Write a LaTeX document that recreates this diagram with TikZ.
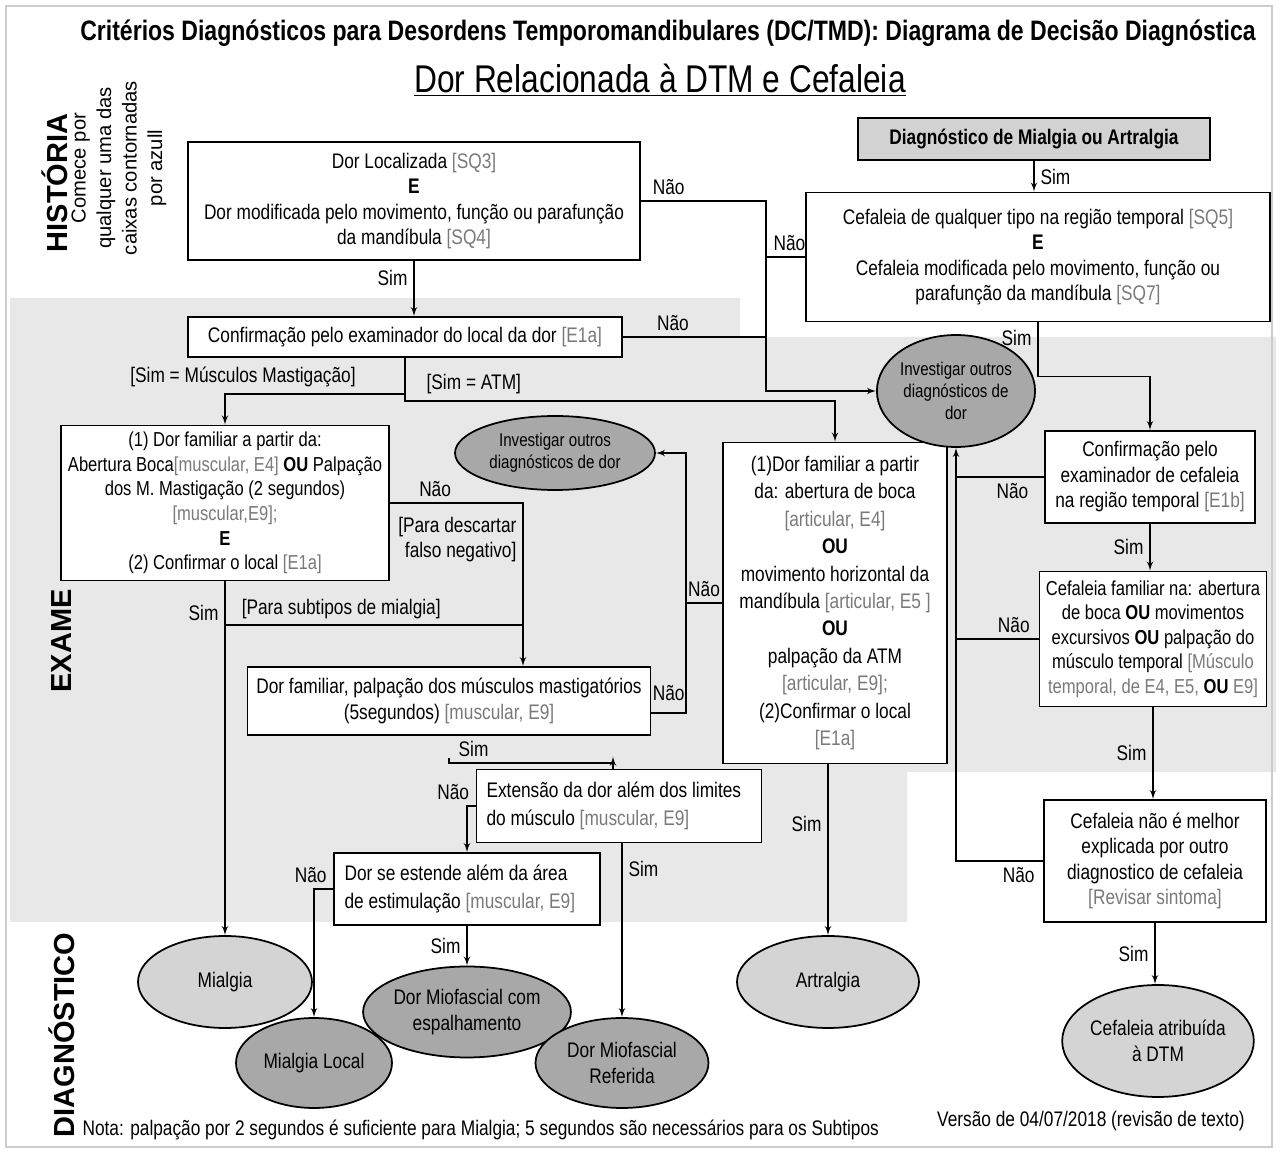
\documentclass[tikz,border=0pt]{standalone}
\usepackage{fontspec}
\setmainfont{Liberation Sans}[FakeStretch=0.82]
\newfontfamily\widefont{Liberation Sans}
\usepackage{tikz}
\usetikzlibrary{shapes,arrows,positioning}

\definecolor{bandgray}{HTML}{E8E8E8}
\definecolor{refgray}{HTML}{7A7A7A}
\definecolor{ellLight}{HTML}{D4D4D4}
\definecolor{ellDark}{HTML}{A8A8A8}
\definecolor{diagfill}{HTML}{D2D2D2}
\newcommand{\rf}[1]{\textcolor{refgray}{#1}}

\begin{document}
\begin{tikzpicture}[x=0.02cm,y=-0.02cm,>=latex',line width=0.8pt,
  font=\fontsize{12}{14.5}\selectfont,
  box/.style={draw,fill=white,align=center,inner sep=1pt,line width=1pt},
  lbox/.style={draw,fill=white,align=flush left,inner xsep=0.2cm,inner ysep=1pt,line width=1pt},
  lell/.style={ellipse,draw,fill=ellLight,align=center,inner sep=0pt,line width=1pt},
  dell/.style={ellipse,draw,fill=ellDark,align=center,inner sep=0pt,line width=1pt}]
  \useasboundingbox (0,0) rectangle (1276,1151);
  \fill[bandgray] (10,298) -- (740,298) -- (740,337) -- (1276,337) -- (1276,772) -- (907,772) -- (907,922) -- (10,922) -- cycle;
  \draw[gray!40,line width=1pt] (6,6) rectangle (1272,1147);

  \node (T) at (668,33) {\bfseries\fontsize{16}{19}\selectfont Critérios Diagnósticos para Desordens Temporomandibulares (DC/TMD): Diagrama de Decisão Diagnóstica};
  \node (S) at (660,80) {\fontsize{22}{25}\selectfont\underline{Dor Relacionada à DTM e Cefaleia}};
  \node (hist) [rotate=90] at (55,183) {\widefont\bfseries\fontsize{16.5}{17}\selectfont HISTÓRIA};
  \node (come) [rotate=90,align=center,font=\widefont\fontsize{11.5}{14.5}\selectfont] at (119,168) {Comece por\\qualquer uma das\\caixas contornadas\\por azull};
  \node (exam) [rotate=90] at (62,641) {\widefont\bfseries\fontsize{16.5}{17}\selectfont EXAME};
  \node (diagn) [rotate=90] at (62,1035) {\widefont\bfseries\fontsize{16.5}{17}\selectfont DIAGNÓSTICO};

  \node (A) [box,line width=1.5pt,minimum width=9.04cm,minimum height=2.36cm] at (414,201) {Dor Localizada \rf{[SQ3]}\\\textbf{E}\\Dor modificada pelo movimento, função ou parafunção\\da mandíbula \rf{[SQ4]}};
  \node (B) [box,fill=diagfill,line width=1.6pt,minimum width=7.04cm,minimum height=0.84cm] at (1034,139) {\textbf{Diagnóstico de Mialgia ou Artralgia}};
  \node (C) [box,minimum width=9.28cm,minimum height=2.58cm] at (1038,257) {Cefaleia de qualquer tipo na região temporal \rf{[SQ5]}\\\textbf{E}\\Cefaleia modificada pelo movimento, função ou\\parafunção da mandíbula \rf{[SQ7]}};
  \node (D) [box,minimum width=8.68cm,minimum height=0.8cm] at (405,337) {Confirmação pelo examinador do local da dor \rf{[E1a]}};
  \node (E) [box,font=\fontsize{11.5}{14}\selectfont,minimum width=6.56cm,minimum height=3.1cm] at (225,503) {(1) Dor familiar a partir da:\\Abertura Boca\rf{[muscular, E4]} \textbf{OU} Palpação\\dos M. Mastigação (2 segundos)\\\rf{[muscular,E9];}\\\textbf{E}\\(2) Confirmar o local \rf{[E1a]}};
  \node (F) [box,font=\fontsize{12}{15.6}\selectfont,minimum width=4.48cm,minimum height=6.42cm] at (835,603) {(1)Dor familiar a partir\\da: abertura de boca\\\rf{[articular, E4]}\\\textbf{OU}\\movimento horizontal da\\mandíbula \rf{[articular, E5 ]}\\\textbf{OU}\\palpação da ATM\\\rf{[articular, E9];}\\(2)Confirmar o local\\\rf{[E1a]}};
  \node (G) [box,minimum width=4.2cm,minimum height=1.84cm] at (1150,477) {Confirmação pelo\\examinador de cefaleia\\na região temporal \rf{[E1b]}};
  \node (H) [box,font=\fontsize{11.5}{14}\selectfont,minimum width=4.54cm,minimum height=2.7cm] at (1153,639) {Cefaleia familiar na: abertura\\de boca \textbf{OU} movimentos\\excursivos \textbf{OU} palpação do\\músculo temporal \rf{[Músculo}\\\rf{temporal, de E4, E5,} \textbf{OU} \rf{E9]}};
  \node (I) [box,minimum width=8.06cm,minimum height=1.36cm] at (449,701) {Dor familiar, palpação dos músculos mastigatórios\\(5segundos) \rf{[muscular, E9]}};
  \node (J) [lbox,font=\fontsize{12}{16}\selectfont,text width=5.3cm,minimum height=1.46cm] at (619,806) {Extensão da dor além dos limites\\do músculo \rf{[muscular, E9]}};
  \node (K) [lbox,font=\fontsize{12}{16}\selectfont,inner xsep=0.21cm,text width=4.9cm,minimum height=1.44cm] at (467,889) {Dor se estende além da área\\de estimulação \rf{[muscular, E9]}};
  \node (L) [box,minimum width=4.44cm,minimum height=2.44cm] at (1155,861) {Cefaleia não é melhor\\explicada por outro\\diagnostico de cefaleia\\\rf{[Revisar sintoma]}};

  \node (M) [dell,font=\fontsize{10.5}{12.5}\selectfont,minimum width=2.84cm,minimum height=2.24cm] at (956,391) {Investigar outros\\diagnósticos de\\dor};
  \node (N) [dell,font=\fontsize{10.5}{12.5}\selectfont,minimum width=4.0cm,minimum height=1.48cm] at (555,453) {Investigar outros\\diagnósticos de dor};
  \node (O) [lell,minimum width=3.48cm,minimum height=1.84cm] at (225,982) {Mialgia};
  \node (Q) [dell,minimum width=3.9cm,minimum height=1.82cm] at (467,1012) {Dor Miofascial com\\espalhamento};
  \node (P) [dell,minimum width=3.12cm,minimum height=1.8cm] at (314,1063) {Mialgia Local};
  \node (R) [dell,minimum width=3.46cm,minimum height=1.8cm] at (622,1063) {Dor Miofascial\\Referida};
  \node (U) [lell,minimum width=3.64cm,minimum height=1.84cm] at (828,982) {Artralgia};
  \node (V) [lell,minimum width=3.5cm,minimum height=2.24cm] at (1158,1041) {Cefaleia atribuída\\à DTM};

  \coordinate (nj) at (766,391);
  \coordinate (pj) at (523,625);
  \coordinate (lj) at (686,453);
  \coordinate (st) at (449,758);

  \draw[->] (A.south) -- node[pos=0.3,left] {Sim} (A.south |- D.north);
  \draw[->] (B.south) -- node[right] {Sim} (B.south |- C.north);
  \draw[->] (A.east) -- node[pos=0.22,above] {Não} (A.east -| nj) -- (nj) -- (M.west);
  \draw (C.west) -- node[pos=0.4,above] {Não} (C.west -| nj);
  \draw (D.east) -- node[pos=0.35,above] {Não} (D.east -| nj);
  \draw[->] (D.south) -- ++(0,36) -| node[pos=0.45,above] {[Sim = Músculos Mastigação]} (E.north);
  \draw[->] (D.south) -- ++(0,43) -| node[pos=0.08,above] {[Sim = ATM]} (F.north);

  \draw[->] (E.south) -- node[pos=0.09,left] {Sim} (O.north);
  \draw[->] (E.south |- pj) -- node[pos=0.39,above] {[Para subtipos de mialgia]} (pj) -- (pj |- I.north);
  \draw (E.east) -- node[pos=0.34,above] {Não} (E.east -| pj) -- node[pos=0.3,left,align=right] {[Para descartar\\falso negativo]} (pj);
  \draw[->] ([yshift=-0.24cm]I.east) -- node[above=0.12cm] {Não} ([yshift=-0.24cm]I.east -| lj) -- (lj) -- (N.east);
  \draw (F.west) -- node[above] {Não} (F.west -| lj);

  \draw (st) -- ++(0,5) -- node[pos=0.15,above] {Sim} ++(164,0);
  \draw[->] ([xshift=-0.12cm]J.north) -- ++(0,-12);
  \draw[->] (J.west) -| node[pos=0,above left] {Não} (K.north);
  \draw[->] (J.south -| R.north) -- node[pos=0.15,right] {Sim} (R.north);
  \draw[->] (K.west) -| node[pos=0,above left] {Não} (P.north);
  \draw[->] (K.south) -- node[left] {Sim} (Q.north);
  \draw[->] (F.south -| U.north) -- node[pos=0.35,left] {Sim} (U.north);

  \draw[->] (C.south) -- node[pos=0.28,left] {Sim} ++(0,54) -| (G.north);
  \draw (G.west) -- node[pos=0.36,below] {Não} (G.west -| M.south);
  \draw[->] (G.south) -- node[left] {Sim} (G.south |- H.north);
  \draw (H.west) -- node[pos=0.3,above] {Não} (H.west -| M.south);
  \draw[->] (H.south) -- node[left] {Sim} (H.south |- L.north);
  \draw[->] (L.west) -| node[pos=0.14,below] {Não} (M.south);
  \draw[->] (L.south) -- node[left] {Sim} (L.south |- V.north);

  \node (nota) [anchor=west] at (76,1130) {Nota: palpação por 2 segundos é suficiente para Mialgia; 5 segundos são necessários para os Subtipos};
  \node (versao) at (1091,1121) {Versão de 04/07/2018 (revisão de texto)};
\end{tikzpicture}
\end{document}
